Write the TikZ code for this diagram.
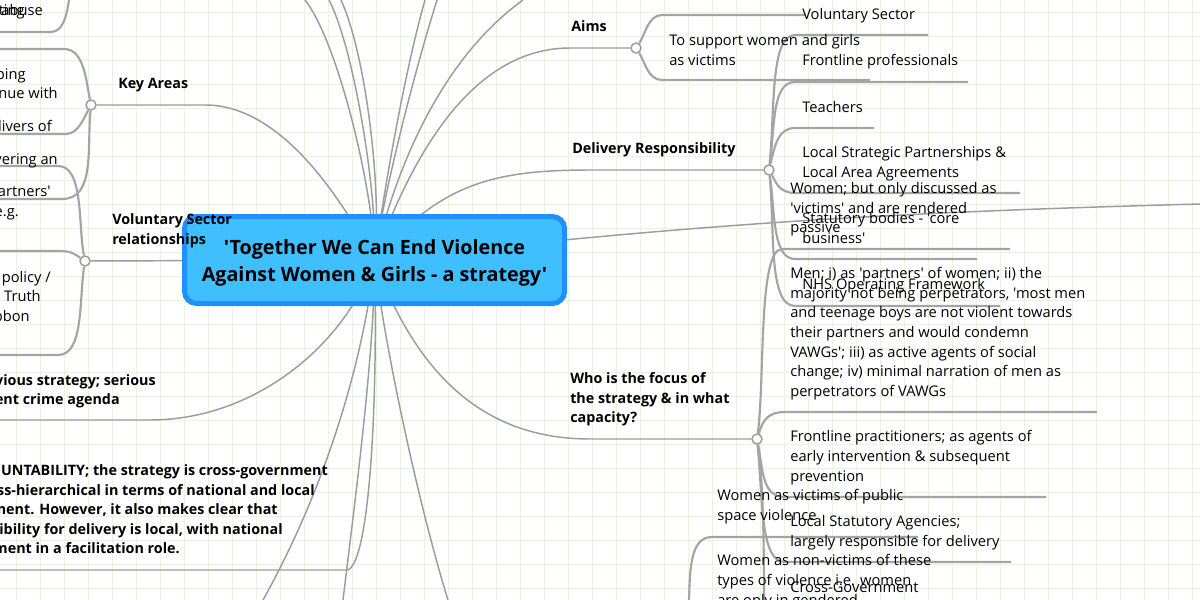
\documentclass[tikz,border=0pt]{standalone}
\usepackage{fontspec}
\setmainfont[Ligatures=TeXOff]{Open Sans}
\usetikzlibrary{backgrounds}
\definecolor{gridgreen}{HTML}{E9F3DE}
\definecolor{linegrey}{HTML}{9C9C9C}
\definecolor{branchgrey}{HTML}{A4A4A4}
\definecolor{rootfill}{HTML}{40BFFF}
\definecolor{rootedge}{HTML}{1E90FF}
\newcommand{\openline}{\rule{0pt}{10.3pt}}
\newcommand{\closeline}{\rule[-4.4pt]{0pt}{4.4pt}}
\tikzset{
  gridline/.style={gridgreen,line width=0.75pt},
  spoke/.style={linegrey,line width=1.1pt},
  branch/.style={branchgrey,line width=1.6pt},
  hub/.style={circle,draw=linegrey,fill=white,line width=1.1pt,inner sep=0pt,minimum size=7.5pt},
  lines/.style={inner sep=0pt,yshift=-1.3pt,execute at begin node=\openline,execute at end node=\closeline},
  txt/.style={lines,anchor=west,align=left,font=\fontsize{11pt}{14.7pt}\selectfont},
  cut/.style={lines,anchor=east,font=\fontsize{11pt}{14.7pt}\selectfont},
  head/.style={txt,font=\fontsize{10.75pt}{14.7pt}\selectfont\bfseries},
  cuthead/.style={cut,font=\fontsize{10.75pt}{14.7pt}\selectfont\bfseries},
  rootbox/.style={rectangle,rounded corners=9pt,draw=rootedge,fill=rootfill,line width=3.75pt,
    minimum width=285pt,minimum height=65.25pt,outer sep=0pt},
  roottext/.style={inner sep=0pt,align=center,font=\fontsize{14.8pt}{20.2pt}\selectfont\bfseries}
}
\begin{document}
\begin{tikzpicture}[x=0.75pt,y=-0.75pt]
  \useasboundingbox (0,0) rectangle (1200,600);
  \node[rootbox] (root) at (374.5,260) {};
  \node[roottext] (title) at (374.5,263) {'Together We Can End Violence\\Against Women \& Girls - a strategy'};
  \path
    (91,105) node[hub] (hubkey){}
    (85,261) node[hub] (hubvol){}
    (636,48) node[hub] (hubaims){}
    (769,170) node[hub] (hubdel){}
    (757,439) node[hub] (hubwho){};
  \path
    (0,32) coordinate (abuseend)
    (69,0) coordinate (abusetop)
    (0,49) coordinate (keya)
    (0,134) coordinate (keyb)
    (0,199) coordinate (keyc)
    (0,166) coordinate (vola)
    (0,251) coordinate (volb)
    (0,355) coordinate (volc)
    (0,420) coordinate (prevend)
    (0,570) coordinate (acctend)
    (263,600) coordinate (downa)
    (343,600) coordinate (downb)
    (448,600) coordinate (downc)
    (305,0) coordinate (upa)
    (329,0) coordinate (upb)
    (341,0) coordinate (upc)
    (425,0) coordinate (upd)
    (437,0) coordinate (upe)
    (523,0) coordinate (upf)
    (1200,204) coordinate (rightend)
    (805,15) coordinate (aimsa)
    (870,80) coordinate (aimsb)
    (928,35) coordinate (dela)
    (968,82) coordinate (delb)
    (874,128) coordinate (delc)
    (1020,193) coordinate (deld)
    (977,259) coordinate (dele)
    (1000,306) coordinate (delf)
    (1010,249) coordinate (whoa)
    (1097,412) coordinate (whob)
    (1046,497) coordinate (whoc)
    (1011,562) coordinate (whod)
    (764,600) coordinate (whoe)
    (918,537) coordinate (publica)
    (689,600) coordinate (publicb);
  \begin{scope}[on background layer]
    \fill[white] (0,0) rectangle (1200,600);
    \foreach \x in {16,40,...,1192} \draw[gridline] (\x,0) -- (\x,600);
    \foreach \y in {12,36,...,588} \draw[gridline] (0,\y) -- (1200,\y);
    % root spokes
    \draw[spoke] (root.center) .. controls (327,172) and (270,105) .. (205,105) -- (hubkey);
    \draw[spoke] (root.center) -- (hubvol);
    \draw[spoke] (root.center) .. controls (375,200) and (340,45) .. (upa);
    \draw[spoke] (root.center) .. controls (378,200) and (355,50) .. (upb);
    \draw[spoke] (root.center) .. controls (382,200) and (368,60) .. (upc);
    \draw[spoke] (root.center) .. controls (384,190) and (405,70) .. (upd);
    \draw[spoke] (root.center) .. controls (384,190) and (415,70) .. (upe);
    \draw[spoke] (root.center) .. controls (395,170) and (440,60) .. (upf);
    \draw[spoke] (root.center) .. controls (410,160) and (470,48) .. (570,48) -- (hubaims);
    \draw[spoke] (root.center) .. controls (440,185) and (490,170) .. (590,170) -- (hubdel);
    \draw[spoke] (root.center) .. controls (700,223) and (900,212) .. (rightend);
    \draw[spoke] (root.center) .. controls (345,345) and (255,420) .. (150,420) -- (prevend);
    \draw[spoke] (root.center) .. controls (378,400) and (370,560) .. (348,570) -- (acctend);
    \draw[spoke] (root.center) .. controls (365,350) and (330,480) .. (downa);
    \draw[spoke] (root.center) .. controls (375,350) and (355,500) .. (downb);
    \draw[spoke] (root.center) .. controls (385,350) and (420,510) .. (downc);
    \draw[spoke] (root.center) .. controls (415,370) and (480,439) .. (590,439) -- (hubwho);
    % left side
    \draw[branch] (abusetop) .. controls (66,20) and (62,32) .. (50,32) -- (abuseend);
    \draw[branch] (hubkey) .. controls (86,80) and (84,49) .. (64,49) -- (keya);
    \draw[branch] (hubkey) .. controls (84,118) and (78,134) .. (66,134) -- (keyb);
    \draw[branch] (hubkey) .. controls (87,150) and (95,199) .. (62,199) -- (keyc);
    \draw[branch] (hubvol) .. controls (78,225) and (84,166) .. (58,166) -- (vola);
    \draw[branch] (hubvol) .. controls (76,255) and (72,251) .. (60,251) -- (volb);
    \draw[branch] (hubvol) .. controls (79,300) and (84,355) .. (58,355) -- (volc);
    % right side
    \draw[branch] (hubaims) .. controls (645,35) and (648,15) .. (662,15) -- (aimsa);
    \draw[branch] (hubaims) .. controls (645,62) and (648,80) .. (662,80) -- (aimsb);
    \draw[branch] (hubdel) .. controls (775,110) and (770,35) .. (795,35) -- (dela);
    \draw[branch] (hubdel) .. controls (775,125) and (772,82) .. (795,82) -- (delb);
    \draw[branch] (hubdel) .. controls (775,145) and (778,128) .. (795,128) -- (delc);
    \draw[branch] (hubdel) .. controls (775,180) and (778,193) .. (795,193) -- (deld);
    \draw[branch] (hubdel) .. controls (775,210) and (772,259) .. (795,259) -- (dele);
    \draw[branch] (hubdel) .. controls (775,230) and (768,306) .. (795,306) -- (delf);
    \draw[branch] (hubwho) .. controls (765,380) and (758,249) .. (782,249) -- (whoa);
    \draw[branch] (hubwho) .. controls (763,420) and (768,412) .. (785,412) -- (whob);
    \draw[branch] (hubwho) .. controls (763,470) and (762,497) .. (785,497) -- (whoc);
    \draw[branch] (hubwho) .. controls (763,500) and (760,562) .. (785,562) -- (whod);
    \draw[branch] (hubwho) .. controls (763,480) and (764,540) .. (whoe);
    \draw[branch] (publicb) .. controls (690,570) and (690,537) .. (712,537) -- (publica);
  \end{scope}
  \path
    (118,83) node[head] (keyareas){Key Areas}
    (112,230.5) node[head] (volrel){Voluntary Sector\\relationships}
    (571,26) node[head] (aims){Aims}
    (572,148) node[head] (delivery){Delivery Responsibility}
    (570,399) node[head] (whofocus){Who is the focus of\\the strategy \& in what\\capacity?}
    (669,51) node[txt] (support){To support women and girls\\as victims}
    (802,14) node[txt] (delvol){Voluntary Sector}
    (802,60) node[txt] (delfront){Frontline professionals}
    (802,107) node[txt] (delteach){Teachers}
    (802,163) node[txt] (dellocal){Local Strategic Partnerships \&\\Local Area Agreements}
    (802,229) node[txt] (delstat){Statutory bodies - 'core\\business'}
    (802,284) node[txt] (delnhs){NHS Operating Framework}
    (790,209) node[txt] (whowomen){Women; but only discussed as\\'victims' and are rendered\\passive}
    (790,333) node[txt] (whomen){Men; i) as 'partners' of women; ii) the\\majority not being perpetrators, 'most men\\and teenage boys are not violent towards\\their partners and would condemn\\VAWGs'; iii) as active agents of social\\change; iv) minimal narration of men as\\perpetrators of VAWGs}
    (790,457) node[txt] (whoprac){Frontline practitioners; as agents of\\early intervention \& subsequent\\prevention}
    (790,532) node[txt] (whostat){Local Statutory Agencies;\\largely responsible for delivery}
    (790,587) node[txt] (whogov){Cross-Government}
    (717,506) node[txt] (publicvic){Women as victims of public\\space violence}
    (717,581) node[txt] (nonvic){Women as non-victims of these\\types of violence i.e. women\\are only in gendered}
    (25,10) node[cut] (cuta){ting}
    (43,10) node[cut] (cutb){abuse}
    (26,74) node[cut] (cutc){ping}
    (58,93) node[cut] (cutd){nue with}
    (52,126) node[cut] (cute){livers of}
    (58,159) node[cut] (cutf){vering an}
    (51,191) node[cut] (cutg){artners'}
    (19,211) node[cut] (cuth){e.g.}
    (51,277) node[cut] (cuti){policy /}
    (41,296) node[cut] (cutj){. Truth}
    (30,316) node[cut] (cutk){bbon}
    (156,380) node[cuthead] (prevb){vious strategy; serious}
    (120,399) node[cuthead] (preva){ent crime agenda}
    (328,470) node[cuthead] (accta){UNTABILITY; the strategy is cross-government}
    (315,490) node[cuthead] (acctb){oss-hierarchical in terms of national and local}
    (278,509) node[cuthead] (acctc){ment. However, it also makes clear that}
    (283,529) node[cuthead] (acctd){sibility for delivery is local, with national}
    (180,548) node[cuthead] (accte){ment in a facilitation role.};
\end{tikzpicture}
\end{document}
